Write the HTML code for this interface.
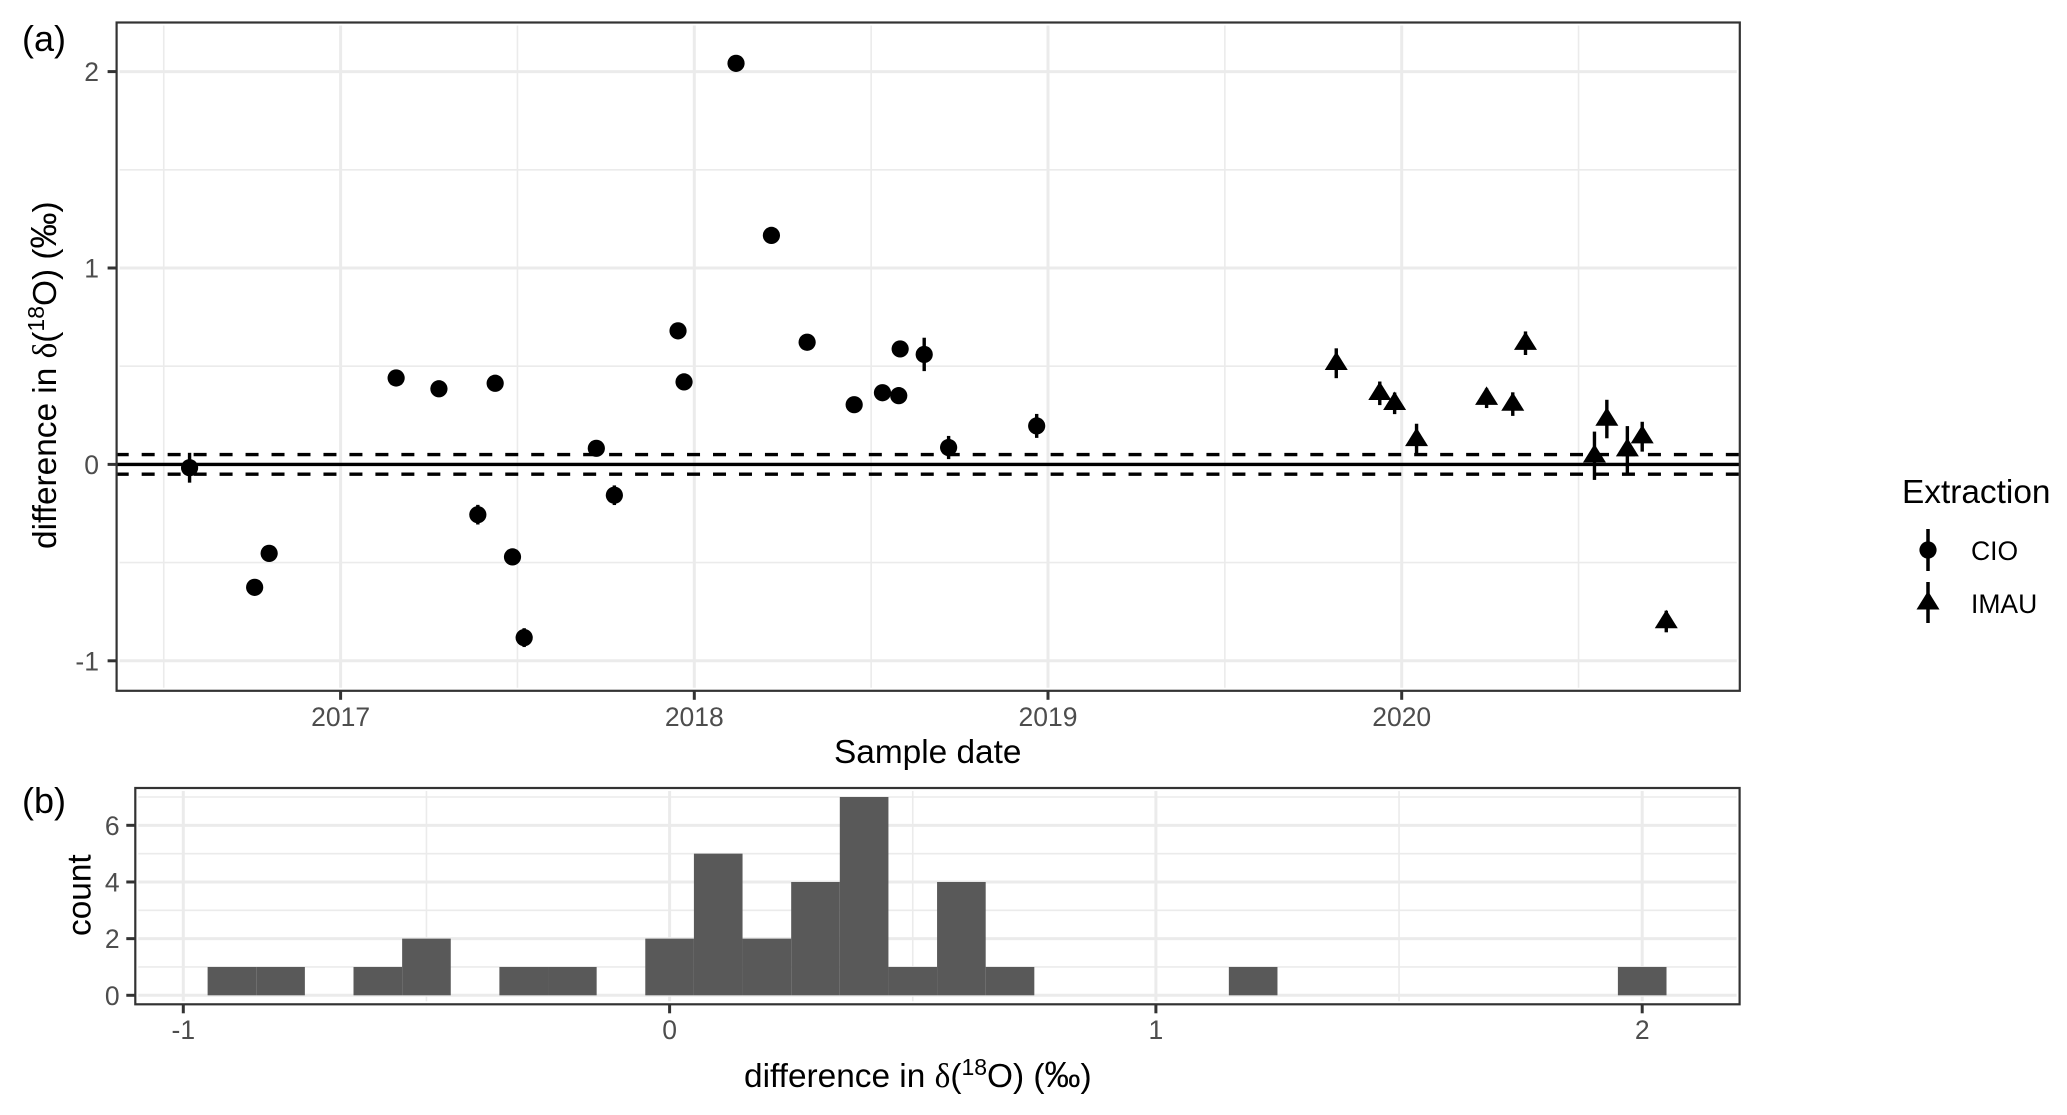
<!DOCTYPE html>
<html lang="en">
<head>
<meta charset="utf-8">
<title>Difference in oxygen isotope ratio by sample date</title>
<style>
html,body{margin:0;padding:0;background:#fff;}
svg{display:block;}
text{font-family:"Liberation Sans",sans-serif;}
.tick{font-size:26.5px;fill:#4d4d4d;}
.title{font-size:33.4px;fill:#000;}
.serif{font-family:"Liberation Serif",serif;}
</style>
</head>
<body>
<svg id="chart" xmlns="http://www.w3.org/2000/svg" width="2067" height="1115" viewBox="0 0 2067 1115">
<rect width="2067" height="1115" fill="#fff"/>
<g id="panel-a"></g>
<g id="panel-b"></g>
<text x="22" y="51" font-size="36" fill="#000">(a)</text>
<text x="22" y="813" font-size="36" fill="#000">(b)</text>
<text class="title" transform="translate(56,549) rotate(-90)">difference in <tspan class="serif">δ</tspan>(<tspan font-size="23" dy="-12">18</tspan><tspan dy="12">O) (</tspan><tspan font-size="36">‰</tspan>)</text>
<text class="title" x="834" y="763">Sample date</text>
<text class="title" transform="translate(90.5,936) rotate(-90)">count</text>
<text class="title" x="744" y="1087">difference in <tspan class="serif">δ</tspan>(<tspan font-size="23" dy="-12">18</tspan><tspan dy="12">O) (</tspan><tspan font-size="36">‰</tspan>)</text>
<g>
<text class="title" x="1902" y="503">Extraction</text>
<g>
<line x1="1928" x2="1928" y1="529" y2="571" stroke="#000" stroke-width="3.5"/>
<circle cx="1928" cy="550" r="8.6" fill="#000"/>
<text class="tick" style="fill:#000" x="1971" y="560">CIO</text>
</g>
<g>
<line x1="1928" x2="1928" y1="582" y2="623" stroke="#000" stroke-width="3.5"/>
<polygon points="1928,591 1939.5,609.5 1916.5,609.5" fill="#000"/>
<text class="tick" style="fill:#000" x="1971" y="613">IMAU</text>
</g>
</g>
</svg>
<script>
// Panel (a) data
const cioDates = [2016.573,2016.757,2016.798,2017.157,2017.278,2017.388,2017.437,2017.486,2017.519,2017.723,2017.774,2017.954,2017.971,2018.118,2018.218,2018.319,2018.452,2018.532,2018.578,2018.582,2018.650,2018.719,2018.968];
const cioValues = [-0.017,-0.626,-0.453,0.440,0.385,-0.256,0.413,-0.471,-0.882,0.082,-0.157,0.680,0.420,2.042,1.166,0.622,0.304,0.365,0.350,0.588,0.560,0.086,0.196];
const cioErrors = [0.076,0.02,0.02,0.02,0.02,0.05,0.02,0.03,0.048,0.02,0.05,0.02,0.02,0.02,0.02,0.02,0.02,0.02,0.02,0.02,0.085,0.059,0.061];
const imauDates = [2019.815,2019.938,2019.980,2020.042,2020.240,2020.314,2020.350,2020.545,2020.580,2020.638,2020.680,2020.748];
const imauValues = [0.515,0.362,0.311,0.127,0.337,0.307,0.617,0.044,0.231,0.075,0.141,-0.800];
const imauErrors = [0.076,0.060,0.055,0.080,0.050,0.060,0.060,0.123,0.098,0.120,0.076,0.055];
const referenceLevels = [-0.05,0.05];
const xTicksA = [2017,2018,2019,2020];
const xMinorA = [2016.5,2017.5,2018.5,2019.5,2020.5];
const yTicksA = [-1,0,1,2];
const yMinorA = [-0.5,0.5,1.5];
// Panel (b) data
const binCenters = [-0.9,-0.8,-0.6,-0.5,-0.3,-0.2,0,0.1,0.2,0.3,0.4,0.5,0.6,0.7,1.2,2.0];
const binCounts = [1,1,1,2,1,1,2,5,2,4,7,1,4,1,1,1];
const binWidth = 0.1;
const xTicksB = [-1,0,1,2];
const xMinorB = [-0.5,0.5,1.5];
const yTicksB = [0,2,4,6];
const yMinorB = [1,3,5,7];

const NS = 'http://www.w3.org/2000/svg';
function make(parent, tag, attrs, text) {
  const el = document.createElementNS(NS, tag);
  for (const k in attrs) el.setAttribute(k, attrs[k]);
  if (text !== undefined) el.textContent = text;
  parent.appendChild(el);
  return el;
}
const A = {l:116.6, r:1739.8, t:22.5, b:690.8};
const B = {l:135.3, r:1739.6, t:788, b:1004.3};
const xA = t => 340.6 + 353.7 * (t - 2017);
const yA = v => 464.4 - 196.4 * v;
const xB = v => 669.6 + 486.3 * v;
const yB = c => 995.3 - 28.33 * c;
const GRID = '#ebebeb', INK = '#333333';
const inset = 3;

function gridLines(g, P, xs, ys, w) {
  xs.forEach(x => {
    const l = make(g, 'line', {x1:x, x2:x, y1:P.t+inset, y2:P.b-inset, stroke:GRID, 'stroke-width':w});
    
    
  });
  ys.forEach(y => {
    const l = make(g, 'line', {x1:P.l+inset, x2:P.r-inset, y1:y, y2:y, stroke:GRID, 'stroke-width':w});
    
    
  });
}
function xAxis(g, P, ticks, labelY, toX) {
  ticks.forEach(t => {
    const m = make(g, 'line', {x1:toX(t), x2:toX(t), y1:P.b, y2:P.b+9, stroke:INK, 'stroke-width':3});
    
    
    const lab = make(g, 'text', {x:toX(t), y:labelY, 'text-anchor':'middle', class:'tick'}, String(t));
    
    
  });
}
function yAxis(g, P, ticks, labelX, toY) {
  ticks.forEach(t => {
    const m = make(g, 'line', {x1:P.l-9, x2:P.l, y1:toY(t), y2:toY(t), stroke:INK, 'stroke-width':3});
    
    
    const lab = make(g, 'text', {x:labelX, y:toY(t)+9.5, 'text-anchor':'end', class:'tick'}, String(t));
    
    
  });
}
function border(g, P) {
  const r = make(g, 'rect', {x:P.l, y:P.t, width:P.r-P.l, height:P.b-P.t, fill:'none', stroke:INK, 'stroke-width':2.2});
  
  
}

// ---- Panel (a)
const ga = document.getElementById('panel-a');
gridLines(ga, A, xMinorA.map(xA), yMinorA.map(yA), 1.6);
gridLines(ga, A, xTicksA.map(xA), yTicksA.map(yA), 3);
referenceLevels.forEach(v => {
  const d = make(ga, 'line', {x1:A.l, x2:A.r, y1:yA(v), y2:yA(v), stroke:'#000', 'stroke-width':3.4, 'stroke-dasharray':'13 12.97', 'stroke-dashoffset':'0.9'});
  
  
});
const zero = make(ga, 'line', {x1:A.l, x2:A.r, y1:yA(0), y2:yA(0), stroke:'#000', 'stroke-width':3.4});



cioDates.forEach((t, i) => {
  const x = xA(t), y = yA(cioValues[i]);
  const g = make(ga, 'g', {});
  
  
  make(g, 'line', {x1:x, x2:x, y1:yA(cioValues[i]+cioErrors[i]), y2:yA(cioValues[i]-cioErrors[i]), stroke:'#000', 'stroke-width':3.4});
  make(g, 'circle', {cx:x, cy:y, r:8.6, fill:'#000'});
});
imauDates.forEach((t, i) => {
  const x = xA(t), y = yA(imauValues[i]);
  const g = make(ga, 'g', {});
  
  
  make(g, 'line', {x1:x, x2:x, y1:yA(imauValues[i]+imauErrors[i]), y2:yA(imauValues[i]-imauErrors[i]), stroke:'#000', 'stroke-width':3.4});
  make(g, 'polygon', {points:[x, y-11.8, x+11.5, y+6.7, x-11.5, y+6.7].join(' '), fill:'#000'});
});
border(ga, A);
xAxis(ga, A, xTicksA, 726, xA);
yAxis(ga, A, yTicksA, 99, yA);

// ---- Panel (b)
const gb = document.getElementById('panel-b');
gridLines(gb, B, xMinorB.map(xB), yMinorB.map(yB), 1.6);
gridLines(gb, B, xTicksB.map(xB), yTicksB.map(yB), 3);
binCenters.forEach((c, i) => {
  const x0 = xB(c - binWidth/2), x1 = xB(c + binWidth/2);
  const bar = make(gb, 'rect', {x:x0, y:yB(binCounts[i]), width:x1-x0, height:yB(0)-yB(binCounts[i]), fill:'#595959'});
  
  
});
border(gb, B);
xAxis(gb, B, xTicksB, 1039, xB);
yAxis(gb, B, yTicksB, 119.6, yB);
</script>
</body>
</html>
